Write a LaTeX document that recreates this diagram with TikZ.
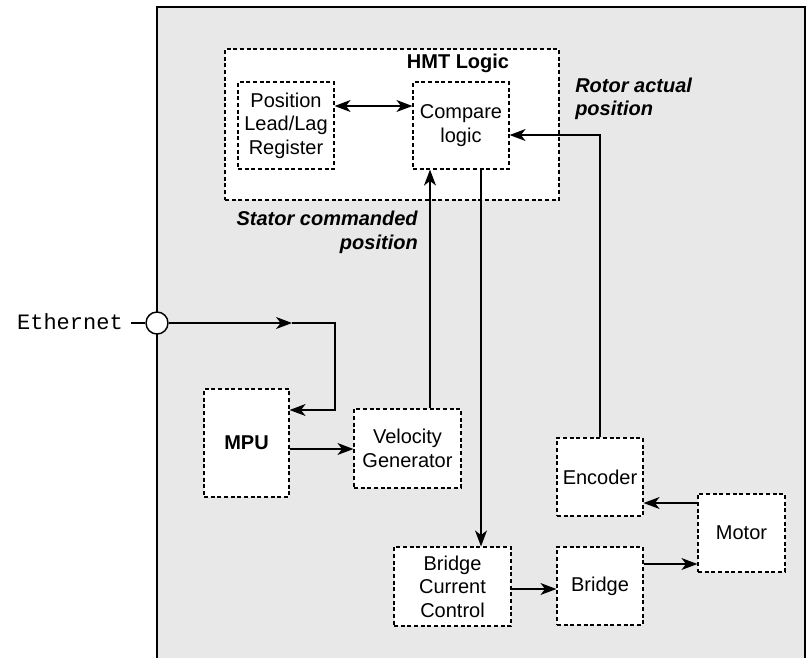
\documentclass[tikz,border=0pt]{standalone}
\usepackage{fontspec}
\setmainfont{Liberation Sans}
\setmonofont{Liberation Mono}
\usetikzlibrary{arrows.meta}
\definecolor{panelgray}{HTML}{E8E8E8}
\tikzset{
  blk/.style={draw, dashed, dash pattern=on 3pt off 2pt, line width=0.9pt, fill=white,
    inner sep=0pt, align=center, font=\fontsize{15}{17.6}\selectfont},
  conn/.style={line width=0.85pt},
  tip/.tip={Stealth[length=12pt,width=9pt,inset=3.5pt]},
  arr/.style={conn, -tip},
  dbl/.style={conn, tip-tip},
  lbl/.style={font=\fontsize{15}{17.6}\selectfont\bfseries\itshape, inner sep=0pt},
}
\begin{document}
\begin{tikzpicture}[x=0.75pt,y=-0.75pt]
\useasboundingbox (0,0) rectangle (807,658);
% panel
\fill[panelgray] (157,7) rectangle (805,658);
\draw[line width=1.2pt] (157,658) -- (157,7) -- (805,7) -- (805,658);

% HMT logic group
\node[blk, minimum width=334*0.75pt, minimum height=151*0.75pt] (hmt) at (392,124.5) {};
\node[font=\fontsize{15}{17.6}\selectfont\bfseries, inner sep=0pt] (hmtlbl) at (458,63) {HMT Logic};
\node[blk, minimum width=96*0.75pt, minimum height=87*0.75pt] (pos) at (286,125.5) {Position\\Lead/Lag\\Register};
\node[blk, minimum width=96*0.75pt, minimum height=87*0.75pt] (cmp) at (461,125.5) {Compare\\logic};

% blocks
\node[blk, minimum width=85*0.75pt, minimum height=108*0.75pt, font=\fontsize{15}{17.6}\selectfont\bfseries] (mpu) at (246.5,443) {MPU};
\node[blk, minimum width=107*0.75pt, minimum height=79*0.75pt] (vel) at (407.5,448.5) {Velocity\\Generator};
\node[blk, minimum width=117*0.75pt, minimum height=79*0.75pt] (bcc) at (452.5,586.5) {Bridge\\Current\\Control};
\node[blk, minimum width=86*0.75pt, minimum height=78*0.75pt] (brg) at (600,586) {Bridge};
\node[blk, minimum width=86*0.75pt, minimum height=78*0.75pt] (enc) at (600,477) {Encoder};
\node[blk, minimum width=87*0.75pt, minimum height=78*0.75pt] (mot) at (741.5,533) {Motor};

% ethernet port
\node[circle, draw, fill=white, line width=1.1pt, minimum size=22*0.75pt, inner sep=0pt] (eth) at (157,323) {};
\node[font=\fontsize{16.5}{18}\selectfont\ttfamily, anchor=east, inner sep=0pt] (ethlbl) at (123,322) {Ethernet};
\coordinate (ethin) at (131,323);
\coordinate (etharr) at (292,323);
\coordinate (ethcorner) at (335,323);

% labels
\node[lbl, align=right, anchor=east] (stator) at (418,232.5) {Stator commanded\\position};
\node[lbl, align=left, anchor=west] (rotor) at (575,99) {Rotor actual\\position};

% connectors
\draw[conn] (ethin) -- (eth.west);
\draw[arr] (eth.east) -- (etharr);
\draw[arr] (etharr) -- (ethcorner) |- (mpu.east |- 0,410);
\draw[arr] (mpu.east |- 0,449) -- (vel.west |- 0,449);
\draw[arr] (vel.north -| 430,0) -- (cmp.south -| 430,0);
\draw[dbl] (pos.east |- 0,106) -- (cmp.west |- 0,106);
\draw[arr] (enc.north) |- (cmp.east |- 0,135);
\draw[arr] (cmp.south -| 481,0) -- (bcc.north -| 481,0);
\draw[arr] (bcc.east |- 0,589) -- (brg.west |- 0,589);
\draw[arr] (brg.east |- 0,564) -- (mot.west |- 0,564);
\draw[arr] (mot.west |- 0,503) -- (enc.east |- 0,503);
\end{tikzpicture}
\end{document}
